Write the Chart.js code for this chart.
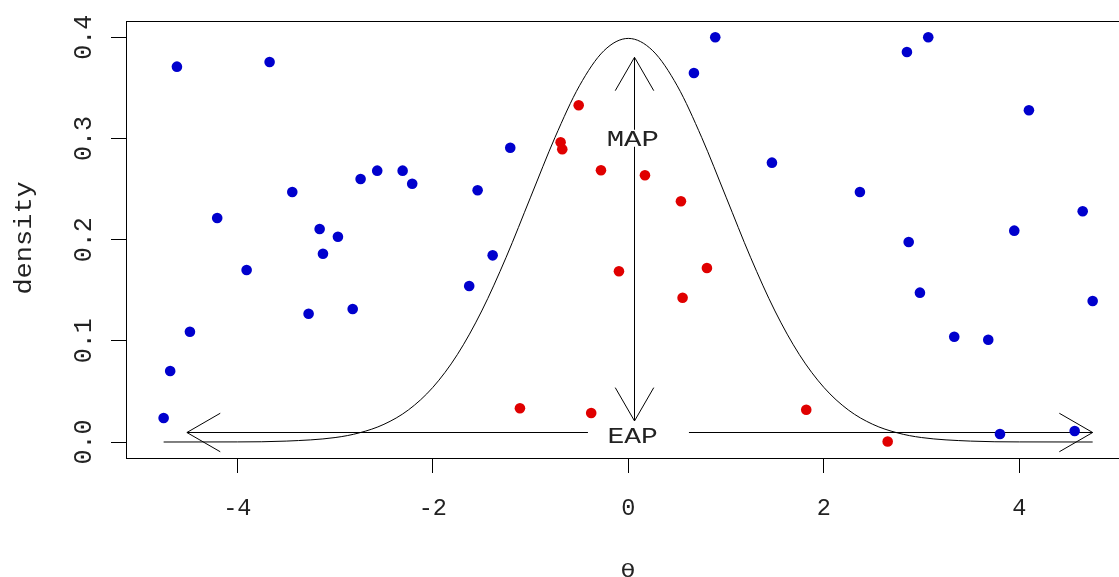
<!DOCTYPE html>
<html>
<head>
<meta charset="utf-8">
<script src="https://cdn.jsdelivr.net/npm/chart.js@4/dist/chart.umd.min.js"></script>
<style>
  html, body { margin: 0; padding: 0; background: #fff; overflow: hidden; }
  #wrap { width: 1180px; height: 577px; }
  canvas { display: block; }
</style>
</head>
<body>
<div id="wrap"><canvas id="c" width="1180" height="577"></canvas></div>
<script>
// Sampled abilities (theta) and their plotted densities
const blueTheta = [-4.754, -4.687, -4.485, -4.618, -4.206, -3.905, -3.670, -3.438, -3.271, -3.158,
                   -3.124, -2.971, -2.820, -2.739, -2.569, -2.309, -2.211, -1.628, -1.542, -1.388,
                   -1.208, 0.671, 0.889, 1.469, 2.369, 2.850, 2.868, 2.983, 3.068, 3.334,
                   3.682, 3.802, 3.948, 4.098, 4.566, 4.648, 4.750];
const blueDensity = [0.0237, 0.0702, 0.1090, 0.3710, 0.2214, 0.1700, 0.3756, 0.2471, 0.1268, 0.2105,
                     0.1861, 0.2029, 0.1315, 0.2600, 0.2682, 0.2682, 0.2553, 0.1542, 0.2488, 0.1845,
                     0.2909, 0.3647, 0.4000, 0.2761, 0.2471, 0.3855, 0.1977, 0.1476, 0.4000, 0.1041,
                     0.1011, 0.0079, 0.2089, 0.3279, 0.0109, 0.2280, 0.1394];
const redTheta = [-1.109, -0.693, -0.676, -0.508, -0.380, -0.280, -0.096, 0.170, 0.538, 0.555, 0.804, 1.820, 2.653];
const redDensity = [0.0333, 0.2962, 0.2893, 0.3328, 0.0287, 0.2686, 0.1687, 0.2636, 0.2379, 0.1426, 0.1720, 0.0319, 0.0005];

// Prior density curve
const curveTheta = [-4.754, -4.0, -3.5, -3.0, -2.75, -2.5, -2.25, -2.0, -1.75, -1.5, -1.25, -1.0, -0.75, -0.5, -0.25, 0,
                    0.25, 0.5, 0.75, 1.0, 1.25, 1.5, 1.75, 2.0, 2.25, 2.5, 2.75, 3.0, 3.5, 4.0, 4.750];
const curveDensity = [0.0000, 0.0001, 0.0009, 0.0044, 0.0091, 0.0175, 0.0317, 0.0540, 0.0863, 0.1295, 0.1826, 0.2420, 0.3011, 0.3521, 0.3867, 0.3989,
                      0.3867, 0.3521, 0.3011, 0.2420, 0.1826, 0.1295, 0.0863, 0.0540, 0.0317, 0.0175, 0.0091, 0.0044, 0.0009, 0.0001, 0.0000];

// Annotation arrows (data coordinates)
const mapArrowX = 0.057;
const mapArrowY = [0.0208, 0.3802];
const eapArrowY = 0.0096;
const eapArrowX = [-4.516, 4.750];
const mapLabel = { text: 'MAP', x: 0.047, y: 0.3002 };
const eapLabel = { text: 'EAP', x: 0.047, y: 0.0069 };

// Axis text
const xTickLabels = ['-4', '-2', '0', '2', '4'];
const yTickLabels = ['0.0', '0.1', '0.2', '0.3', '0.4'];
const xTitle = 'θ';
const yTitle = 'density';

const MONO = '"Liberation Mono", "DejaVu Sans Mono", monospace';
const TEXT_COLOR = '#222';

function ink(ctx, text, font) {
  ctx.font = font;
  const m = ctx.measureText(text);
  return { l: m.actualBoundingBoxLeft, r: m.actualBoundingBoxRight,
           a: m.actualBoundingBoxAscent, d: m.actualBoundingBoxDescent, w: m.width };
}

// Draws text whose ink box (of refText, or of text itself) spans along x across,
// centred on (cx, cy); rotated text reads bottom-to-top.
function fitText(ctx, text, family, cx, cy, along, across, rotated, refText) {
  const font = '100px ' + family;
  const ref = ink(ctx, refText || text, font);
  const m = ink(ctx, text, font);
  const sx = along / (ref.l + ref.r);
  const sy = across / (ref.a + ref.d);
  ctx.save();
  ctx.fillStyle = TEXT_COLOR;
  ctx.font = font;
  ctx.textAlign = 'left';
  ctx.textBaseline = 'alphabetic';
  ctx.translate(cx, cy);
  if (rotated) ctx.rotate(-Math.PI / 2);
  ctx.scale(sx, sy);
  const ox = refText ? -m.w / 2 : -(m.r - m.l) / 2;
  const oy = (ref.a - ref.d) / 2;
  ctx.fillText(text, ox, oy);
  ctx.restore();
}

function arrowHead(ctx, tx, ty, fx, fy, len, ang) {
  const a = Math.atan2(ty - fy, tx - fx);
  ctx.moveTo(tx - len * Math.cos(a - ang), ty - len * Math.sin(a - ang));
  ctx.lineTo(tx, ty);
  ctx.lineTo(tx - len * Math.cos(a + ang), ty - len * Math.sin(a + ang));
}

const arrowsPlugin = {
  id: 'arrows',
  beforeDatasetsDraw(chart) {
    const { ctx, scales: { x, y } } = chart;
    const len = 38.5, ang = Math.PI / 6;
    ctx.save();
    ctx.strokeStyle = '#000';
    ctx.lineWidth = 1;
    // horizontal EAP arrow
    const hy = Math.round(y.getPixelForValue(eapArrowY)) + 0.5;
    const hx0 = x.getPixelForValue(eapArrowX[0]);
    const hx1 = x.getPixelForValue(eapArrowX[1]);
    ctx.beginPath();
    ctx.moveTo(hx0, hy); ctx.lineTo(hx1, hy);
    arrowHead(ctx, hx0, hy, hx1, hy, len, ang);
    arrowHead(ctx, hx1, hy, hx0, hy, len, ang);
    ctx.stroke();
    // vertical MAP arrow
    const vx = Math.round(x.getPixelForValue(mapArrowX)) + 0.5;
    const vy0 = y.getPixelForValue(mapArrowY[0]);
    const vy1 = y.getPixelForValue(mapArrowY[1]);
    ctx.beginPath();
    ctx.moveTo(vx, vy0); ctx.lineTo(vx, vy1);
    arrowHead(ctx, vx, vy0, vx, vy1, len, ang);
    arrowHead(ctx, vx, vy1, vx, vy0, len, ang);
    ctx.stroke();
    ctx.restore();
  },
  afterDatasetsDraw(chart) {
    const { ctx, scales: { x, y } } = chart;
    // MAP label on a white patch
    const mx = x.getPixelForValue(mapLabel.x), my = y.getPixelForValue(mapLabel.y);
    ctx.save();
    ctx.fillStyle = '#fff';
    ctx.fillRect(mx - 30, my - 8.5, 60, 17);
    const ex = x.getPixelForValue(eapLabel.x), ey = y.getPixelForValue(eapLabel.y);
    ctx.fillRect(ex - 45, ey - 11, 101, 22);
    ctx.restore();
    fitText(ctx, mapLabel.text, MONO, mx, my, 49, 15, false);
    fitText(ctx, eapLabel.text, MONO, ex, ey, 47, 15, false);
  },
  afterDraw(chart) {
    const { ctx, chartArea: ca, scales: { x, y } } = chart;
    // plot frame
    ctx.save();
    ctx.strokeStyle = '#000';
    ctx.lineWidth = 1;
    ctx.strokeRect(Math.round(ca.left) + 0.5, Math.round(ca.top) + 0.5,
                   Math.round(ca.right - ca.left), Math.round(ca.bottom - ca.top));
    ctx.restore();
    // tick labels
    x.ticks.forEach((t, i) => {
      const px = x.getPixelForValue(t.value);
      fitText(ctx, xTickLabels[i], MONO, px, ca.bottom + 48.5, 11.3, 16.7, false, '0');
    });
    y.ticks.forEach((t, i) => {
      const py = y.getPixelForValue(t.value);
      fitText(ctx, yTickLabels[i], MONO, ca.left - 44, py, 42, 18, true, '0.0');
    });
    // axis titles
    fitText(ctx, xTitle, '"DejaVu Sans", sans-serif', (ca.left + ca.right) / 2, 570, 12, 14, false);
    fitText(ctx, yTitle, MONO, 25, (ca.top + ca.bottom) / 2 - 2, 111, 23, true);
  }
};

const toPoints = (xs, ys) => xs.map((v, i) => ({ x: v, y: ys[i] }));

new Chart(document.getElementById('c'), {
  type: 'scatter',
  data: {
    datasets: [
      {
        type: 'line',
        data: toPoints(curveTheta, curveDensity),
        borderColor: '#000',
        borderWidth: 1,
        pointRadius: 0,
        fill: false,
        cubicInterpolationMode: 'monotone',
        order: 3
      },
      {
        data: toPoints(blueTheta, blueDensity),
        backgroundColor: '#0000CD',
        borderWidth: 0,
        pointRadius: 5.3,
        order: 1
      },
      {
        data: toPoints(redTheta, redDensity),
        backgroundColor: '#E00000',
        borderWidth: 0,
        pointRadius: 5.3,
        order: 0
      }
    ]
  },
  options: {
    responsive: false,
    animation: false,
    devicePixelRatio: 1,
    events: [],
    layout: { autoPadding: false, padding: { top: 21, right: 50, left: 0, bottom: 0 } },
    plugins: { legend: { display: false }, tooltip: { enabled: false } },
    scales: {
      x: {
        type: 'linear',
        min: -5.139,
        max: 5.132,
        ticks: { display: false, stepSize: 2, includeBounds: false },
        grid: { drawOnChartArea: false, drawTicks: true, tickLength: 15, color: '#000', lineWidth: 1 },
        border: { display: true, color: '#000', width: 1 },
        afterFit(s) { s.height = 119; }
      },
      y: {
        type: 'linear',
        min: -0.0158,
        max: 0.4161,
        ticks: { display: false, stepSize: 0.1, includeBounds: false },
        grid: { drawOnChartArea: false, drawTicks: true, tickLength: 15, color: '#000', lineWidth: 1 },
        border: { display: true, color: '#000', width: 1 },
        afterFit(s) { s.width = 126; }
      }
    }
  },
  plugins: [arrowsPlugin]
});
</script>
</body>
</html>
